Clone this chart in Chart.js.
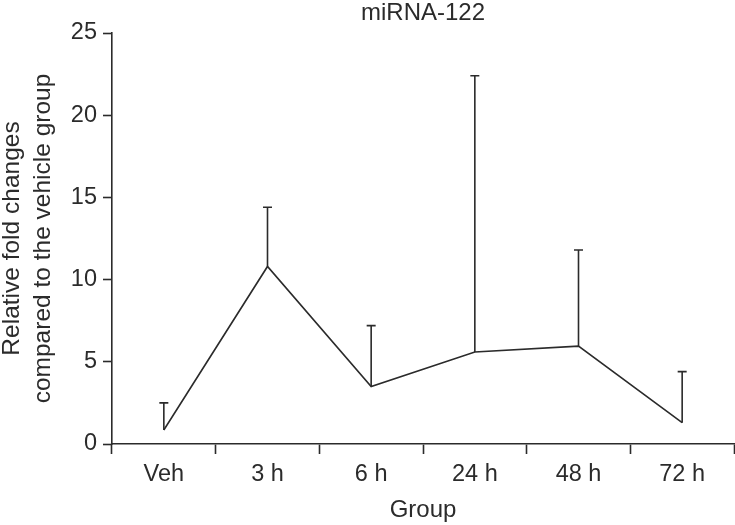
<!DOCTYPE html>
<html>
<head>
<meta charset="utf-8">
<script src="https://cdn.jsdelivr.net/npm/chart.js@4.4.0/dist/chart.umd.min.js"></script>
<style>
  html, body { margin: 0; padding: 0; background: #ffffff; }
  #wrap { width: 735px; height: 525px; position: relative; }
</style>
</head>
<body>
<div id="wrap"><canvas id="c" width="735" height="525"></canvas></div>
<script>
const chartTitle = 'miRNA-122';
const categories = ['Veh', '3 h', '6 h', '24 h', '48 h', '72 h'];
const meanValues = [0.85, 10.8, 3.5, 5.6, 5.95, 1.3];
const errorValues = [1.65, 3.6, 3.7, 16.8, 5.85, 3.1];
const yTickValues = [0, 5, 10, 15, 20, 25];
const xAxisTitle = 'Group';
const yAxisTitleLines = ['Relative fold changes', 'compared to the vehicle group'];

const INK = '#2b2b2b';
const FONT = "'Liberation Sans', Arial, Helvetica, sans-serif";
const FS = 23.5;

const errorBarPlugin = {
  id: 'errorBars',
  afterDatasetsDraw(chart) {
    const ctx = chart.ctx;
    const xs = chart.scales.x, ys = chart.scales.y;
    ctx.save();
    ctx.strokeStyle = INK;
    ctx.lineWidth = 1.6;
    meanValues.forEach((m, i) => {
      const x = xs.getPixelForValue(i);
      const y0 = ys.getPixelForValue(m);
      const y1 = ys.getPixelForValue(m + errorValues[i]);
      ctx.beginPath();
      ctx.moveTo(x, y0);
      ctx.lineTo(x, y1);
      ctx.moveTo(x - 4.5, y1);
      ctx.lineTo(x + 4.5, y1);
      ctx.stroke();
    });
    ctx.restore();
  }
};

const yTitlePlugin = {
  id: 'yTitle',
  afterDraw(chart) {
    const ctx = chart.ctx;
    const ca = chart.chartArea;
    const cy = (ca.top + ca.bottom) / 2;
    ctx.save();
    ctx.fillStyle = INK;
    ctx.font = '24.5px ' + FONT;
    ctx.textAlign = 'center';
    ctx.textBaseline = 'middle';
    const xs = [12, 43];
    yAxisTitleLines.forEach((t, i) => {
      ctx.save();
      ctx.translate(xs[i], cy);
      ctx.rotate(-Math.PI / 2);
      ctx.fillText(t, 0, 0);
      ctx.restore();
    });
    ctx.restore();
  }
};

new Chart(document.getElementById('c'), {
  type: 'line',
  data: {
    labels: categories,
    datasets: [{
      label: chartTitle,
      data: meanValues,
      borderColor: INK,
      borderWidth: 1.6,
      pointRadius: 0,
      fill: false,
      tension: 0
    }]
  },
  options: {
    responsive: false,
    animation: false,
    devicePixelRatio: 1,
    layout: { padding: { left: 0, right: 1, top: 0, bottom: 0 } },
    plugins: {
      legend: { display: false },
      tooltip: { enabled: false },
      title: {
        display: true,
        fullSize: false,
        text: chartTitle,
        color: INK,
        font: { family: FONT, size: 24, weight: 'normal', lineHeight: 1.1 },
        padding: { top: 0, bottom: 6.6 }
      }
    },
    scales: {
      x: {
        type: 'category',
        offset: true,
        grid: {
          offset: true,
          drawOnChartArea: false,
          drawTicks: true,
          tickLength: 10,
          tickWidth: 1.6,
          tickColor: INK
        },
        border: { display: true, color: INK, width: 1.6 },
        ticks: {
          color: INK,
          font: { family: FONT, size: FS },
          padding: 6,
          maxRotation: 0
        },
        title: {
          display: true,
          text: xAxisTitle,
          color: INK,
          font: { family: FONT, size: 24, lineHeight: 1.2 },
          padding: { top: 0, bottom: 0 }
        },
        afterFit(s) { s.height = 81; }
      },
      y: {
        min: 0,
        max: 25,
        afterBuildTicks(s) { s.ticks = yTickValues.map(v => ({ value: v })); },
        grid: {
          drawOnChartArea: false,
          drawTicks: true,
          tickLength: 9,
          tickWidth: 1.6,
          tickColor: INK
        },
        border: { display: true, color: INK, width: 1.6 },
        ticks: {
          color: INK,
          font: { family: FONT, size: FS },
          padding: 6
        },
        afterFit(s) { s.width = 112; }
      }
    }
  },
  plugins: [errorBarPlugin, yTitlePlugin]
});
</script>
</body>
</html>
